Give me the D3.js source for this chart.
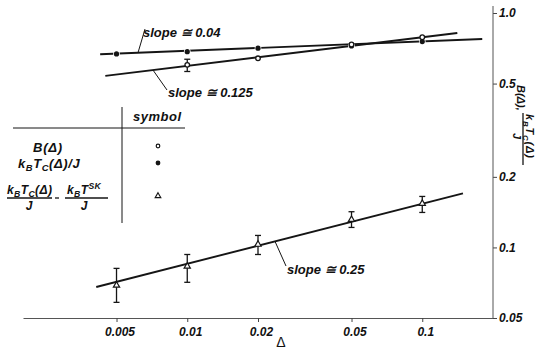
<!DOCTYPE html>
<html>
<head>
<meta charset="utf-8">
<script src="https://cdn.jsdelivr.net/npm/d3@7"></script>
<style>
  body { margin: 0; background: #fff; }
  svg { display: block; }
  text { font-family: "Liberation Sans", Arial, sans-serif; fill: #111; }
</style>
</head>
<body>
<svg id="chart" width="538" height="360"></svg>
<script>
// values
var deltas     = [0.005, 0.01, 0.02, 0.05, 0.1];
var tcValues   = [0.669, 0.684, 0.708, 0.724, 0.755];   // k_B T_C(Δ)/J, filled circles
var bDeltas    = [0.01, 0.02, 0.05, 0.1];
var bValues    = [0.601, 0.641, 0.734, 0.788];          // B(Δ), open circles
var bErrLow    = [0.563, null, null, null];
var bErrHigh   = [0.635, null, null, null];
var diffValues = [0.0689, 0.083, 0.103, 0.1315, 0.154]; // triangles
var diffLow    = [0.0583, 0.071, 0.0933, 0.1217, 0.141];
var diffHigh   = [0.0814, 0.0933, 0.1125, 0.142, 0.165];

var fitTc   = [[0.00426, 0.667], [0.18, 0.775]];
var fitB    = [[0.00448, 0.539], [0.141, 0.822]];
var fitDiff = [[0.0041, 0.0678], [0.149, 0.170]];

var xTicks = [0.005, 0.01, 0.02, 0.05, 0.1];
var xTickLabels = ["0.005", "0.01", "0.02", "0.05", "0.1"];
var yTicks = [0.05, 0.1, 0.2, 0.5, 1.0];
var yTickLabels = ["0.05", "0.1", "0.2", "0.5", "1.0"];

var slopeLabels = ["slope \u2245 0.04", "slope \u2245 0.125", "slope \u2245 0.25"];

var svg = d3.select("#chart");
var x = d3.scaleLog().domain([0.002, 0.2]).range([23, 493]);
var y = d3.scaleLog().domain([0.05, 1.0]).range([318, 13]);

var ink = "#151515";

// helper for sub/superscripts
function rich(sel, parts, size) {
	var shift = 0;
	parts.forEach(function(p){
		var kind = p[1];
		var target = kind == "sub" ? size*0.25 : (kind == "sup" ? -size*0.45 : 0);
		sel.append("tspan")
			.attr("dy", target - shift)
			.attr("font-size", kind ? size*0.72 : size)
			.text(p[0]);
		shift = target;
	});
	return sel;
}

// axes
var xAxis = d3.axisBottom(x).tickValues(xTicks)
	.tickFormat(function(d,i){ return xTickLabels[i]; })
	.tickSize(4).tickSizeOuter(0).tickPadding(5);
var gx = svg.append("g").attr("transform","translate(0,318)").call(xAxis);
gx.select(".domain").attr("stroke","#555");
gx.selectAll(".tick line").attr("stroke","#444");
gx.selectAll(".tick text")
	.attr("font-size",12).attr("font-style","italic").attr("font-weight","bold")
	.attr("fill",ink).attr("dx",3);

var yAxis = d3.axisRight(y).tickValues(yTicks)
	.tickFormat(function(d,i){ return yTickLabels[i]; })
	.tickSize(4).tickSizeOuter(0).tickPadding(2);
var gy = svg.append("g").attr("transform","translate(493,0)").call(yAxis);
gy.select(".domain").remove();
gy.append("line").attr("x1",0).attr("x2",0).attr("y1",6).attr("y2",318).attr("stroke","#555");
gy.selectAll(".tick line").attr("stroke","#444");
gy.selectAll(".tick text")
	.attr("font-size",12).attr("font-style","italic").attr("font-weight","bold")
	.attr("fill",ink);

// x label
svg.append("text").attr("x",281).attr("y",347).attr("text-anchor","middle")
	.attr("font-size",14).text("\u0394");

// y label, rotated
var yl = svg.append("g").attr("transform","translate(523,85) rotate(90)")
	.attr("font-style","italic").attr("font-weight","bold");
yl.append("text").attr("x",0).attr("y",6).attr("font-size",11).text("B(\u0394),");
rich(yl.append("text").attr("x",29).attr("y",-3).attr("letter-spacing",0.8),
	[["k"],["B","sub"],["T"],["C","sub"],["(\u0394)"]], 11);
yl.append("line").attr("x1",28).attr("x2",80).attr("y1",0).attr("y2",0).attr("stroke",ink).attr("stroke-width",1.3);
yl.append("text").attr("x",51).attr("y",10).attr("font-size",11).attr("text-anchor","middle").text("J");

// fit lines
var line = d3.line().x(function(d){ return x(d[0]); }).y(function(d){ return y(d[1]); });
[fitTc, fitB, fitDiff].forEach(function(f){
	svg.append("path").attr("d", line(f)).attr("fill","none")
		.attr("stroke",ink).attr("stroke-width",1.9);
});

// point on a fit line at pixel x
function onFit(f, px) {
	var x0 = x(f[0][0]), x1 = x(f[1][0]);
	var t = (px - x0)/(x1 - x0);
	return [px, y(f[0][1]) + t*(y(f[1][1]) - y(f[0][1]))];
}

// slope annotations
var ann = [
	{fit: fitTc,   px: 138, end: [145, 29],  tx: 143, ty: 37},
	{fit: fitB,    px: 153, end: [167, 90],  tx: 168, ty: 97},
	{fit: fitDiff, px: 275, end: [286, 266], tx: 287, ty: 274}
];
ann.forEach(function(a, i){
	var p = onFit(a.fit, a.px);
	svg.append("line").attr("x1",p[0]).attr("y1",p[1]).attr("x2",a.end[0]).attr("y2",a.end[1])
		.attr("stroke",ink).attr("stroke-width",1);
	svg.append("text").attr("x",a.tx).attr("y",a.ty)
		.attr("font-size",13).attr("font-style","italic").attr("font-weight","bold")
		.text(slopeLabels[i]);
});

// error bars
function errBar(xv, lo, hi) {
	var g = svg.append("g").attr("stroke",ink).attr("stroke-width",1.3);
	g.append("line").attr("x1",x(xv)).attr("x2",x(xv)).attr("y1",y(lo)).attr("y2",y(hi));
	g.append("line").attr("x1",x(xv)-3).attr("x2",x(xv)+3).attr("y1",y(lo)).attr("y2",y(lo));
	g.append("line").attr("x1",x(xv)-3).attr("x2",x(xv)+3).attr("y1",y(hi)).attr("y2",y(hi));
}
deltas.forEach(function(d,i){ errBar(d, diffLow[i], diffHigh[i]); });
bDeltas.forEach(function(d,i){ if (bErrLow[i] != null) errBar(d, bErrLow[i], bErrHigh[i]); });

// markers
svg.selectAll(".tc").data(deltas).enter().append("circle")
	.attr("cx",function(d){ return x(d); })
	.attr("cy",function(d,i){ return y(tcValues[i]); })
	.attr("r",2.6).attr("fill",ink).attr("stroke","#fff").attr("stroke-width",1.5)
	.attr("paint-order","stroke");
svg.selectAll(".bv").data(bDeltas).enter().append("circle")
	.attr("cx",function(d){ return x(d); })
	.attr("cy",function(d,i){ return y(bValues[i]); })
	.attr("r",2.3).attr("fill","#fff").attr("stroke",ink).attr("stroke-width",1.3);
var tri = d3.symbol().type(d3.symbolTriangle).size(17);
svg.selectAll(".df").data(deltas).enter().append("path")
	.attr("d", tri)
	.attr("transform",function(d,i){ return "translate(" + x(d) + "," + y(diffValues[i]) + ")"; })
	.attr("fill","#fff").attr("stroke",ink).attr("stroke-width",1.2);

// legend table
var lg = svg.append("g");
lg.append("line").attr("x1",122).attr("x2",122).attr("y1",107).attr("y2",223).attr("stroke",ink).attr("stroke-width",1);
lg.append("line").attr("x1",13).attr("x2",185).attr("y1",128).attr("y2",128).attr("stroke",ink).attr("stroke-width",1);
var lt = lg.append("g").attr("font-style","italic").attr("font-weight","bold");
lt.append("text").attr("x",133).attr("y",121).attr("font-size",13).attr("letter-spacing",0.5).text("symbol");
lt.append("text").attr("x",48).attr("y",152).attr("font-size",13).attr("text-anchor","middle")
	.attr("letter-spacing",0.8).text("B(\u0394)");
rich(lt.append("text").attr("x",18).attr("y",168).attr("letter-spacing",0.6),
	[["k"],["B","sub"],["T"],["C","sub"],["(\u0394)/J"]], 13);
rich(lt.append("text").attr("x",7).attr("y",194).attr("letter-spacing",0.4),
	[["k"],["B","sub"],["T"],["C","sub"],["(\u0394)"]], 12);
lt.append("line").attr("x1",7).attr("x2",52).attr("y1",198).attr("y2",198).attr("stroke",ink).attr("stroke-width",1.3);
lt.append("text").attr("x",29).attr("y",210).attr("font-size",12).attr("text-anchor","middle").text("J");
lt.append("line").attr("x1",55).attr("x2",59).attr("y1",198).attr("y2",198).attr("stroke",ink).attr("stroke-width",1.3);
rich(lt.append("text").attr("x",67).attr("y",194).attr("letter-spacing",0.4),
	[["k"],["B","sub"],["T"],["SK","sup"]], 12);
lt.append("line").attr("x1",65).attr("x2",108).attr("y1",198).attr("y2",198).attr("stroke",ink).attr("stroke-width",1.3);
lt.append("text").attr("x",84).attr("y",210).attr("font-size",12).attr("text-anchor","middle").text("J");

lg.append("circle").attr("cx",158).attr("cy",146).attr("r",1.8).attr("fill","#fff").attr("stroke",ink).attr("stroke-width",1.2);
lg.append("circle").attr("cx",158).attr("cy",163).attr("r",2.4).attr("fill",ink);
lg.append("path").attr("d", d3.symbol().type(d3.symbolTriangle).size(14))
	.attr("transform","translate(158,196)").attr("fill","#fff").attr("stroke",ink).attr("stroke-width",1.1);
</script>
</body>
</html>
